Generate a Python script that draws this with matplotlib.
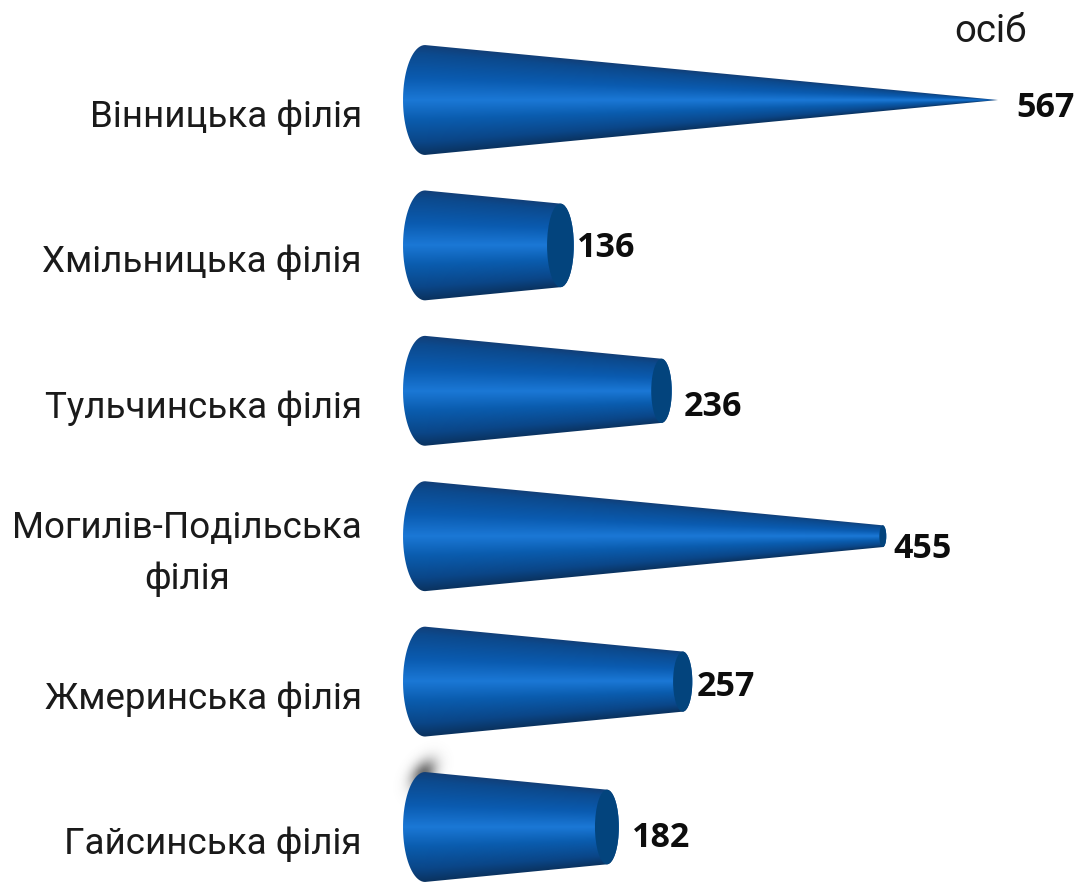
"""Cone bar chart: persons per branch."""

import matplotlib.pyplot as plt
import numpy as np
from matplotlib.colors import LinearSegmentedColormap
from matplotlib.patches import Ellipse, PathPatch
from matplotlib.path import Path

plt.rcParams["font.family"] = ["Roboto", "DejaVu Sans"]

BRANCHES = [
    "Вінницька філія",
    "Хмільницька філія",
    "Тульчинська філія",
    "Могилів-Подільська\nфілія",
    "Жмеринська філія",
    "Гайсинська філія",
]
PERSONS = [567, 136, 236, 455, 257, 182]
UNIT = "осіб"

# label nudges in pixels, the original labels sit a bit off the cone ends
LABEL_DX = [18, 3, 12, 7, 4, 13]
LABEL_DY = [6, 1, 14, 11, 3, 9]

W, H = 1078, 883
PX_PER_VALUE = 1.0106
ROW_PX = 145.4
ZERO_PX = 425
FIRST_ROW_PX = 100
CONE_R = 0.378  # cone radius at the base, in rows
BASE_ASPECT = 0.40  # ellipse width / height at the base, px based
CAP_ASPECT = 0.32
CAP_SHIFT = 2  # caps sit slightly short of the value
TEXT_DROP_PX = 17

CONE_CMAP = LinearSegmentedColormap.from_list(
    "cone",
    [
        (0.00, "#123f78"),
        (0.08, "#0c4a8e"),
        (0.30, "#0a5bb0"),
        (0.50, "#1b78d6"),
        (0.68, "#0a5cae"),
        (0.88, "#0a4688"),
        (1.00, "#0b3360"),
    ],
)
CAP_COLOR = "#03447d"


def cap_geometry(value, vmax):
    """Return centre, x radius and y radius of the cone's end cap."""

    r_end = CONE_R * (1 - value / vmax)
    cap_rx = CAP_ASPECT * r_end * ROW_PX / PX_PER_VALUE
    centre = value - CAP_SHIFT if r_end > 0 else value
    return centre, cap_rx, r_end


def cone_outline(value, vmax, yc):
    """Closed outline: rounded base on the left, rounded cap on the right."""

    centre, cap_rx, r_end = cap_geometry(value, vmax)
    base_rx = BASE_ASPECT * CONE_R * ROW_PX / PX_PER_VALUE
    angles_left = np.linspace(np.pi / 2, -np.pi / 2, 40)
    angles_right = np.linspace(-np.pi / 2, np.pi / 2, 40)
    xs = np.concatenate([-base_rx * np.cos(angles_left), centre + cap_rx * np.cos(angles_right)])
    ys = np.concatenate([yc - CONE_R * np.sin(angles_left), yc - r_end * np.sin(angles_right)])
    verts = np.column_stack([xs, ys])
    return Path(np.vstack([verts, verts[0]]), closed=True)


def draw_cone(ax, value, vmax, yc):
    """Paint the banded body through a clip path, then the end cap."""

    outline = cone_outline(value, vmax, yc)
    base_rx = BASE_ASPECT * CONE_R * ROW_PX / PX_PER_VALUE
    centre, cap_rx, r_end = cap_geometry(value, vmax)
    x0, x1 = -base_rx - 2, centre + cap_rx + 2
    y0, y1 = yc - CONE_R - 0.02, yc + CONE_R + 0.02
    xg = np.linspace(x0, x1, 900)
    yg = np.linspace(y0, y1, 400)
    xx, yy = np.meshgrid(xg, yg)
    radius = CONE_R * (1 - np.clip(xx, 0, vmax) / vmax)
    band = np.clip((yy - yc) / np.maximum(radius, 1e-3), -1, 1) * 0.5 + 0.5
    image = ax.imshow(
        band,
        extent=(x0, x1, y1, y0),
        origin="upper",
        cmap=CONE_CMAP,
        vmin=0,
        vmax=1,
        aspect="auto",
        interpolation="bilinear",
        zorder=2,
    )
    patch = PathPatch(outline, facecolor="none", edgecolor="none", transform=ax.transData)
    ax.add_patch(patch)
    image.set_clip_path(patch)

    if r_end > 0:
        ax.add_patch(
            Ellipse(
                (centre, yc),
                2 * cap_rx,
                2 * r_end,
                facecolor=CAP_COLOR,
                edgecolor="none",
                zorder=3,
            )
        )


def draw_smudge(ax, yc):
    """Soft grey smear behind the top-left of the last cone."""

    x0, x1 = -45, 40
    y0, y1 = yc - 0.62, yc - 0.1
    xg = np.linspace(x0, x1, 120)
    yg = np.linspace(y0, y1, 120)
    xx, yy = np.meshgrid(xg, yg)
    # the smear leans with the base ellipse, so the centre moves with y
    centre = -1 - 50 * (yy - (yc - 0.38))
    alpha = np.exp(-(((xx - centre) / 12.0) ** 2) - ((yy - (yc - 0.36)) / 0.1) ** 2)
    rgba = np.zeros((120, 120, 4))
    rgba[..., :3] = 0.4
    rgba[..., 3] = alpha * 0.95
    ax.imshow(rgba, extent=(x0, x1, y1, y0), origin="upper", aspect="auto", zorder=1)


fig = plt.figure(figsize=(W / 100, H / 100), dpi=100)
left_px = 370
ax = fig.add_axes([left_px / W, 0, 1 - left_px / W, 1])

vmax = max(PERSONS)
rows = np.arange(len(BRANCHES))
draw_smudge(ax, rows[-1])
for row, value in zip(rows, PERSONS):
    draw_cone(ax, value, vmax, row)

ax.set_xlim((left_px - ZERO_PX) / PX_PER_VALUE, (W - ZERO_PX) / PX_PER_VALUE)
ax.set_ylim((H - FIRST_ROW_PX) / ROW_PX, -FIRST_ROW_PX / ROW_PX)
ax.set_xticks([])
ax.set_yticks([])
for spine in ax.spines.values():
    spine.set_visible(False)

for row, branch in zip(rows, BRANCHES):
    ax.annotate(
        branch,
        xy=(0, row),
        xycoords=("axes fraction", "data"),
        xytext=(-8 * 0.72, -TEXT_DROP_PX * 0.72),
        textcoords="offset points",
        ha="right",
        va="center",
        multialignment="center",
        linespacing=1.55,
        fontsize=26.5,
        color="#1a1a1a",
    )

for row, value, dx, dy in zip(rows, PERSONS, LABEL_DX, LABEL_DY):
    centre, cap_rx, _ = cap_geometry(value, vmax)
    ax.annotate(
        str(value),
        xy=(centre + cap_rx, row),
        xytext=(dx * 0.72, -(dy + 2) * 0.72),
        textcoords="offset points",
        ha="left",
        va="center",
        fontsize=24.5,
        fontweight="bold",
        family=["Open Sans", "DejaVu Sans"],
        color="#0d0d0d",
    )

fig.text(990 / W, 1 - 31 / H, UNIT, ha="center", va="center", fontsize=27.5, color="#1a1a1a")

fig.savefig("out.png", dpi=100)
plt.close(fig)
